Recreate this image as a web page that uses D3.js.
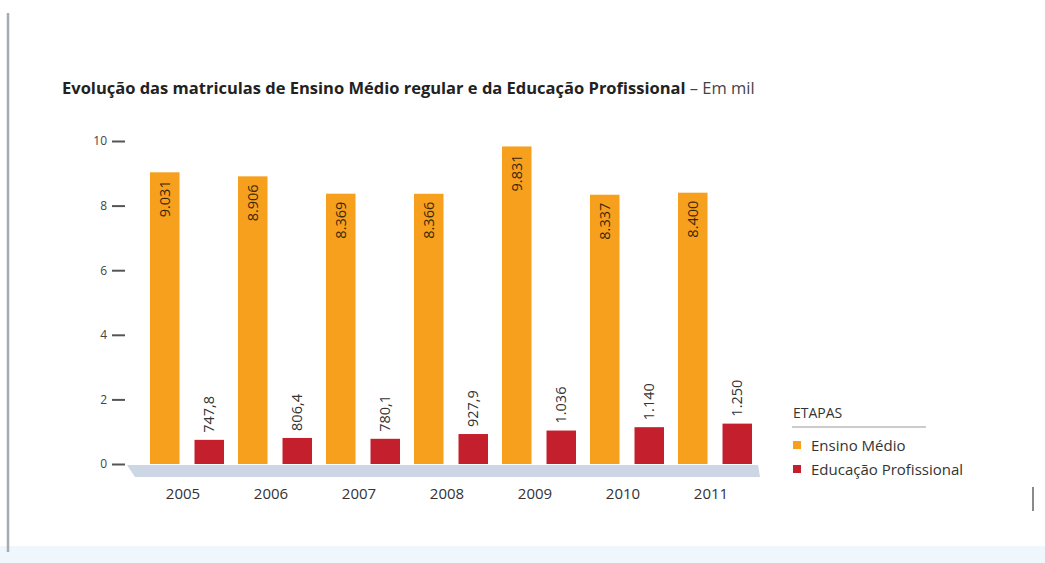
<!DOCTYPE html>
<html lang="pt">
<head>
<meta charset="UTF-8">
<title>Matrículas</title>
<script src="https://cdn.jsdelivr.net/npm/d3@7"></script>
<style>
  body { margin: 0; background: #fff; }
  text { font-family: "Open Sans", "Liberation Sans", sans-serif; }
</style>
</head>
<body>
<div id="chart"></div>
<script>
// data
var years = ["2005", "2006", "2007", "2008", "2009", "2010", "2011"];
var series = ["Ensino Médio", "Educação Profissional"];
var ensinoMedio = [9.031, 8.906, 8.369, 8.366, 9.831, 8.337, 8.400];
var ensinoMedioLabels = ["9.031", "8.906", "8.369", "8.366", "9.831", "8.337", "8.400"];
var educProf = [0.7478, 0.8064, 0.7801, 0.9279, 1.036, 1.140, 1.250];
var educProfLabels = ["747,8", "806,4", "780,1", "927,9", "1.036", "1.140", "1.250"];
var yTicks = [0, 2, 4, 6, 8, 10];
var colors = ["#f6a01e", "#c41f2c"];

var w = 1045, h = 563;

var svg = d3.select("#chart").append("svg")
  .attr("width", w)
  .attr("height", h);

// page frame bits
svg.append("rect")
  .attr("x", 0).attr("y", 546)
  .attr("width", w).attr("height", h - 546)
  .attr("fill", "#eff7fc");
svg.append("line")
  .attr("x1", 8).attr("x2", 8)
  .attr("y1", 13).attr("y2", 552)
  .attr("stroke", "#a4abb3")
  .attr("stroke-width", 2.5);
svg.append("line")
  .attr("x1", 1033).attr("x2", 1033)
  .attr("y1", 487).attr("y2", 511)
  .attr("stroke", "#8a8a8a")
  .attr("stroke-width", 2);

// title
var title = svg.append("text")
  .attr("x", 62).attr("y", 94)
  .attr("font-size", "16.5px")
  .attr("fill", "#222");
title.append("tspan")
  .attr("font-weight", "bold")
  .text("Evolução das matriculas de Ensino Médio regular e da Educação Profissional");
title.append("tspan")
  .attr("fill", "#444")
  .text(" – Em mil");

var y = d3.scaleLinear()
  .domain([0, 10])
  .range([464, 141]);

var x0 = d3.scaleBand()
  .domain(years)
  .range([143, 759]);

var x1 = d3.scaleBand()
  .domain(series)
  .range([0, x0.bandwidth()])
  .paddingInner(0.337)
  .paddingOuter(0.157);

// floor band
svg.append("polygon")
  .attr("points", [
    [127, y(0) + 1], [758, y(0) + 1],
    [760, y(0) + 13], [135, y(0) + 13]
  ].map(function(p) { return p.join(","); }).join(" "))
  .attr("fill", "#ccd6e4");

// y axis
var yAxis = svg.append("g")
  .attr("transform", "translate(125,0)")
  .call(d3.axisLeft(y).tickValues(yTicks).tickSize(13).tickPadding(5));
yAxis.select(".domain").remove();
yAxis.selectAll(".tick line")
  .attr("stroke", "#555")
  .attr("stroke-width", 2);
yAxis.selectAll(".tick text")
  .attr("font-size", "12px")
  .attr("fill", "#444")
  .style("font-family", "'Open Sans', sans-serif");

// x labels
svg.selectAll(".year")
  .data(years)
  .enter()
  .append("text")
  .attr("class", "year")
  .attr("x", function(d) { return x0(d) + x0.bandwidth() / 2 - 4; })
  .attr("y", 499)
  .attr("text-anchor", "middle")
  .attr("font-size", "15px")
  .attr("fill", "#333")
  .text(function(d) { return d; });

// bars
var groups = svg.selectAll(".grp")
  .data(years)
  .enter()
  .append("g")
  .attr("class", "grp")
  .attr("transform", function(d) { return "translate(" + x0(d) + ",0)"; });

groups.append("rect")
  .attr("x", x1(series[0]))
  .attr("width", x1.bandwidth())
  .attr("y", function(d, i) { return y(ensinoMedio[i]); })
  .attr("height", function(d, i) { return y(0) - y(ensinoMedio[i]); })
  .attr("fill", colors[0]);

groups.append("rect")
  .attr("x", x1(series[1]))
  .attr("width", x1.bandwidth())
  .attr("y", function(d, i) { return y(educProf[i]); })
  .attr("height", function(d, i) { return y(0) - y(educProf[i]); })
  .attr("fill", colors[1]);

// value labels
groups.append("text")
  .attr("transform", function(d, i) {
    var cx = x1(series[0]) + x1.bandwidth() / 2;
    return "translate(" + (cx + 5) + "," + (y(ensinoMedio[i]) + 8) + ") rotate(-90)";
  })
  .attr("text-anchor", "end")
  .attr("font-size", "14.5px")
  .attr("fill", "#3d2806")
  .text(function(d, i) { return ensinoMedioLabels[i]; });

groups.append("text")
  .attr("transform", function(d, i) {
    var cx = x1(series[1]) + x1.bandwidth() / 2;
    return "translate(" + (cx + 5) + "," + (y(educProf[i]) - 7) + ") rotate(-90)";
  })
  .attr("text-anchor", "start")
  .attr("font-size", "14.5px")
  .attr("fill", "#333")
  .text(function(d, i) { return educProfLabels[i]; });

// legend
var legend = svg.append("g").attr("transform", "translate(793,0)");
legend.append("text")
  .attr("x", 0).attr("y", 418)
  .attr("font-size", "14px")
  .attr("fill", "#333")
  .text("ETAPAS");
legend.append("line")
  .attr("x1", -1).attr("x2", 133)
  .attr("y1", 427).attr("y2", 427)
  .attr("stroke", "#999")
  .attr("stroke-width", 1);

var items = legend.selectAll(".item")
  .data(series)
  .enter()
  .append("g")
  .attr("class", "item")
  .attr("transform", function(d, i) { return "translate(0," + (441 + i * 24) + ")"; });
items.append("rect")
  .attr("width", 8).attr("height", 8)
  .attr("fill", function(d, i) { return colors[i]; });
items.append("text")
  .attr("x", 18).attr("y", 10)
  .attr("font-size", "15px")
  .attr("fill", "#333")
  .text(function(d) { return d; });
</script>
</body>
</html>
